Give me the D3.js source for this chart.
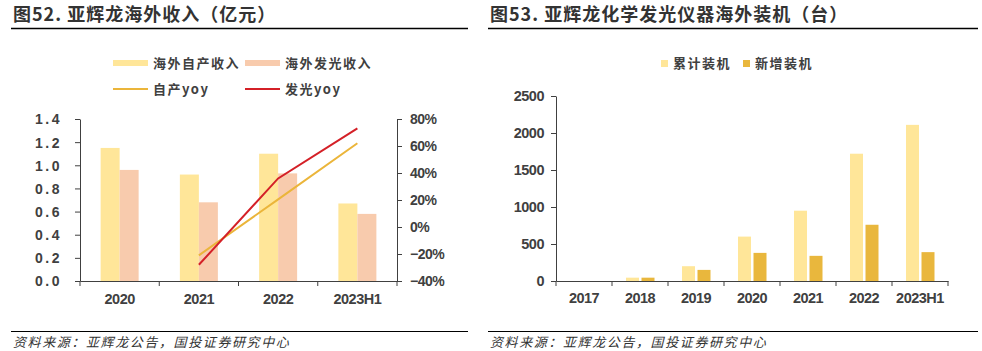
<!DOCTYPE html>
<html><head><meta charset="utf-8">
<script src="https://cdn.jsdelivr.net/npm/d3@7"></script>
<style>
body{margin:0;background:#fff;}
svg{display:block;}
text{font-family:"Liberation Sans",Arial,sans-serif;fill:#404040;}
.cjk{font-family:"Noto Sans CJK SC",sans-serif;}
</style></head><body>
<svg id="c" width="982" height="351"></svg>
<script>
// ---- Chart 1 data ----
const cats1 = ["2020","2021","2022","2023H1"];
const selfRev = [1.15, 0.92, 1.10, 0.67];
const lumRev = [0.96, 0.68, 0.93, 0.58];
const selfYoy = [null, -21, 20.5, 62];
const lumYoy = [null, -28, 36, 73];
const leftTicks1 = [0,0.2,0.4,0.6,0.8,1.0,1.2,1.4];
const rightTicks1 = [-40,-20,0,20,40,60,80];
// ---- Chart 2 data ----
const cats2 = ["2017","2018","2019","2020","2021","2022","2023H1"];
const cumInst = [0, 45, 200, 600, 950, 1720, 2110];
const newInst = [0, 45, 150, 380, 340, 760, 390];
const ticks2 = [0,500,1000,1500,2000,2500];

const C_LIGHT="#FFE699", C_PINK="#F8CBAD", C_GOLD="#E9B73D", C_LINEY="#EBB53A", C_RED="#D42027";
const svg = d3.select("#c");

function header(x0,x1,title){
  svg.append("text").attr("class","cjk").attr("x",x0+2).attr("y",21)
    .attr("font-size",18).attr("font-weight","bold").attr("letter-spacing",1).style("fill","#333").text(title);
  svg.append("line").attr("x1",x0).attr("x2",x1).attr("y1",28.5).attr("y2",28.5).attr("stroke","#000").attr("stroke-width",1.5);
  svg.append("line").attr("x1",x0).attr("x2",x1).attr("y1",331.5).attr("y2",331.5).attr("stroke","#000").attr("stroke-width",1.2);
  svg.append("text").attr("class","cjk").attr("x",x0+2).attr("y",347).attr("font-size",13).attr("letter-spacing",1.6)
    .attr("font-style","italic").style("fill","#333").text("资料来源：亚辉龙公告，国投证券研究中心");
}
header(11,468,"图52. 亚辉龙海外收入（亿元）");
header(488,978,"图53. 亚辉龙化学发光仪器海外装机（台）");

// ---- Chart 1 ----
{
  const x = d3.scaleBand().domain(cats1).range([80,397]);
  const y = d3.scaleLinear().domain([0,1.4]).range([281,119]);
  const y2 = d3.scaleLinear().domain([-40,80]).range([281,119]);
  const bw = 19;
  const g = svg.append("g");
  g.selectAll(".b1").data(cats1).enter().append("rect")
    .attr("x",d=>x(d)+x.bandwidth()/2-bw).attr("width",bw)
    .attr("y",(d,i)=>y(selfRev[i])).attr("height",(d,i)=>y(0)-y(selfRev[i])).attr("fill",C_LIGHT);
  g.selectAll(".b2").data(cats1).enter().append("rect")
    .attr("x",d=>x(d)+x.bandwidth()/2).attr("width",bw)
    .attr("y",(d,i)=>y(lumRev[i])).attr("height",(d,i)=>y(0)-y(lumRev[i])).attr("fill",C_PINK);
  const line = d3.line().defined(d=>d[1]!=null).x(d=>x(d[0])+x.bandwidth()/2).y(d=>y2(d[1]));
  g.append("path").datum(cats1.map((c,i)=>[c,selfYoy[i]])).attr("d",line).attr("fill","none").attr("stroke",C_LINEY).attr("stroke-width",2);
  g.append("path").datum(cats1.map((c,i)=>[c,lumYoy[i]])).attr("d",line).attr("fill","none").attr("stroke",C_RED).attr("stroke-width",2);

  const ax = svg.append("g").attr("transform","translate(80,0)")
    .call(d3.axisLeft(y).tickValues(leftTicks1).tickFormat(d=>d.toFixed(1)).tickSize(5).tickSizeOuter(0));
  ax.selectAll("text").attr("font-size",14).attr("font-weight","bold").attr("letter-spacing",2.5).attr("x",-18).attr("dy","0.35em");
  const ar = svg.append("g").attr("transform","translate(397,0)")
    .call(d3.axisRight(y2).tickValues(rightTicks1).tickFormat(d=>(d<0?"−":"")+Math.abs(d)+"%").tickSize(5).tickSizeOuter(0));
  ar.selectAll("text").attr("font-size",14).attr("font-weight","bold").attr("letter-spacing",-0.5).attr("x",13);
  const xb = svg.append("g").attr("transform","translate(0,281)")
    .call(d3.axisBottom(x).tickSize(0).tickSizeOuter(0));
  xb.selectAll("text").attr("font-size",14.5).attr("font-weight","bold").attr("letter-spacing",-0.5).attr("y",13);
  xb.selectAll(".bt").data(cats1.concat(["_end"])).enter().append("line")
    .attr("x1",(d,i)=>80+i*x.step()).attr("x2",(d,i)=>80+i*x.step()).attr("y1",0).attr("y2",5).attr("stroke","#404040");
  [ax,ar,xb].forEach(a=>{a.selectAll("line,path").attr("stroke","#404040");});

  const lg = svg.append("g");
  const items = [
    {t:"海外自产收入",c:C_LIGHT,x:113,y:63,type:"rect"},
    {t:"海外发光收入",c:C_PINK,x:245,y:63,type:"rect"},
    {t:"自产yoy",c:C_LINEY,x:113,y:89,type:"line"},
    {t:"发光yoy",c:C_RED,x:245,y:89,type:"line"}];
  items.forEach(it=>{
    if(it.type==="rect") lg.append("rect").attr("x",it.x).attr("y",it.y-3).attr("width",35).attr("height",6).attr("fill",it.c);
    else lg.append("line").attr("x1",it.x).attr("x2",it.x+35).attr("y1",it.y).attr("y2",it.y).attr("stroke",it.c).attr("stroke-width",2);
    lg.append("text").attr("class","cjk").attr("x",it.x+40).attr("y",it.y).attr("dy","0.35em").attr("font-size",13)
      .attr("font-weight","bold").attr("letter-spacing",1.5).text(it.t);
  });
}

// ---- Chart 2 ----
{
  const x = d3.scaleBand().domain(cats2).range([556,948]);
  const y = d3.scaleLinear().domain([0,2500]).range([281,96]);
  const bw = 13, gap = 3;
  const g = svg.append("g");
  g.selectAll(".c1").data(cats2).enter().append("rect")
    .attr("x",d=>x(d)+x.bandwidth()/2-bw-gap/2+0.5).attr("width",bw)
    .attr("y",(d,i)=>y(cumInst[i])).attr("height",(d,i)=>y(0)-y(cumInst[i])).attr("fill",C_LIGHT);
  g.selectAll(".c2").data(cats2).enter().append("rect")
    .attr("x",d=>x(d)+x.bandwidth()/2+gap/2).attr("width",bw)
    .attr("y",(d,i)=>y(newInst[i])).attr("height",(d,i)=>y(0)-y(newInst[i])).attr("fill",C_GOLD);
  const ax = svg.append("g").attr("transform","translate(556,0)")
    .call(d3.axisLeft(y).tickValues(ticks2).tickFormat(d3.format("d")).tickSize(5).tickSizeOuter(0));
  ax.selectAll("text").attr("font-size",14.5).attr("font-weight","bold").attr("letter-spacing",-0.5).attr("x",-12);
  const xb = svg.append("g").attr("transform","translate(0,281)")
    .call(d3.axisBottom(x).tickSize(0).tickSizeOuter(0));
  xb.selectAll("text").attr("font-size",14.5).attr("font-weight","bold").attr("letter-spacing",-0.5).attr("y",12);
  xb.selectAll(".bt").data(cats2.concat(["_end"])).enter().append("line")
    .attr("x1",(d,i)=>556+i*x.step()).attr("x2",(d,i)=>556+i*x.step()).attr("y1",0).attr("y2",5).attr("stroke","#404040");
  [ax,xb].forEach(a=>{a.selectAll("line,path").attr("stroke","#404040");});

  const lg = svg.append("g");
  [{t:"累计装机",c:C_LIGHT,x:661},{t:"新增装机",c:C_GOLD,x:743}].forEach(it=>{
    lg.append("rect").attr("x",it.x).attr("y",60).attr("width",7).attr("height",7).attr("fill",it.c);
    lg.append("text").attr("class","cjk").attr("x",it.x+12).attr("y",63.5).attr("dy","0.35em").attr("font-size",13)
      .attr("font-weight","bold").attr("letter-spacing",1.5).text(it.t);
  });
}
</script>
</body></html>
